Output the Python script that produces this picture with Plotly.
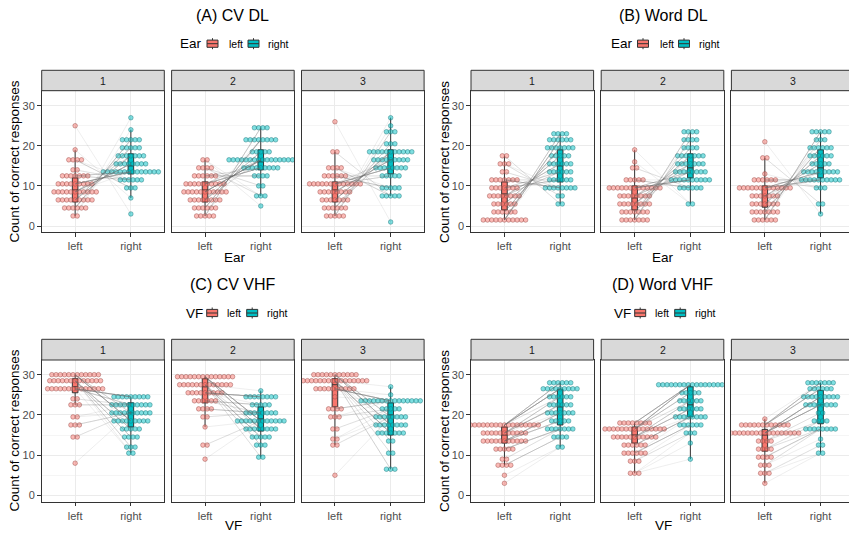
import plotly.graph_objects as go

W, H = 849, 535

panel_titles = ["(A) CV DL", "(B) Word DL", "(C) CV VHF", "(D) Word VHF"]
factor_names = ["Ear", "Ear", "VF", "VF"]
facet_labels = ["1", "2", "3"]
side_labels = ["left", "right"]
y_ticks = [0, 10, 20, 30]
y_title = "Count of correct responses"

# ---- binned dot counts: (score, number of participants) per facet ----
cv_dl_left = [
    [(25, 1), (19, 1), (16.5, 4), (14, 2), (12.5, 7), (10.5, 9), (8.5, 11), (6.5, 9), (4.5, 6), (2.5, 2)],
    [(16.5, 2), (14.5, 4), (12.5, 6), (10.5, 10), (8.5, 11), (6.5, 8), (4.5, 6), (2.5, 5)],
    [(26, 1), (18.5, 2), (14.5, 4), (12.5, 6), (10.5, 13), (8.5, 8), (6.5, 7), (4.5, 6), (2.5, 5)],
]
cv_dl_right = [
    [(27, 1), (24, 1), (21.5, 5), (19.5, 5), (17.5, 7), (15.5, 8), (13.5, 14), (11.5, 6), (9.5, 3), (7, 1), (3, 1)],
    [(24.5, 4), (21.5, 8), (18.5, 5), (16.5, 16), (14.5, 9), (12.5, 4), (10, 2), (7.5, 3), (5, 1)],
    [(27, 1), (25, 1), (23.5, 3), (20.5, 3), (18.5, 11), (16.5, 9), (14.5, 8), (12.5, 5), (9.5, 5), (7.5, 5), (1, 1)],
]
word_dl_left = [
    [(17.5, 2), (15.5, 3), (13.5, 2), (11.5, 7), (9.5, 7), (7.5, 8), (5.5, 6), (3.5, 6), (1.5, 11)],
    [(19, 1), (16, 1), (14.5, 2), (11.5, 5), (9.5, 13), (7.5, 8), (5.5, 8), (3.5, 7), (1.5, 7)],
    [(21, 1), (17, 2), (13, 1), (11.5, 6), (9.5, 13), (7.5, 7), (5.5, 7), (3.5, 7), (1.5, 6)],
]
word_dl_right = [
    [(23, 4), (21.5, 6), (19.5, 7), (17.5, 5), (15.5, 6), (13.5, 6), (11.5, 6), (9.5, 8), (7.5, 2), (5.5, 2)],
    [(23.5, 4), (21.5, 4), (19.5, 4), (17.5, 7), (15.5, 7), (13.5, 8), (11.5, 10), (9.5, 6), (5.5, 2)],
    [(23.5, 5), (21.5, 3), (19.5, 6), (17.5, 6), (15.5, 5), (13.5, 9), (11.5, 10), (9.5, 3), (5.5, 2), (3, 1)],
]
cv_vhf_left = [
    [(30, 12), (28.5, 13), (26.5, 14), (24, 2), (22.5, 3), (19.5, 2), (17.5, 3), (14.5, 2), (8, 1)],
    [(29.5, 14), (27.5, 13), (25.5, 9), (23.5, 6), (21.5, 4), (19.5, 2), (17, 1), (12.5, 2), (9, 1)],
    [(30, 11), (28.5, 16), (26.5, 10), (24.5, 1), (21.5, 4), (19.5, 3), (16.5, 2), (14, 2), (12.5, 2), (5, 1)],
]
cv_vhf_right = [
    [(24.5, 9), (22.5, 10), (20.5, 10), (18.5, 9), (16.5, 5), (14.5, 4), (12, 3), (10.5, 2)],
    [(26, 1), (24.5, 8), (22.5, 5), (20.5, 8), (18.5, 12), (16.5, 8), (14.5, 5), (12.5, 3), (9.5, 2)],
    [(27, 1), (25, 1), (23.5, 15), (21.5, 5), (19.5, 8), (17.5, 8), (15.5, 7), (13.5, 2), (10.5, 2), (6.5, 3)],
]
word_vhf_left = [
    [(17.5, 17), (15.5, 11), (13.5, 11), (11.5, 5), (9, 2), (7.5, 4), (5, 1), (3, 1)],
    [(18, 8), (16.5, 15), (14.5, 11), (12.5, 6), (10.5, 6), (8.5, 3), (5.5, 3)],
    [(19, 1), (17.5, 12), (15.5, 17), (13.5, 4), (11.5, 4), (9.5, 4), (7.5, 3), (5.5, 3), (3, 1)],
]
word_vhf_right = [
    [(28, 6), (26.5, 9), (24.5, 6), (22.5, 6), (20.5, 7), (18.5, 5), (16.5, 7), (14.5, 4), (12, 2)],
    [(27.5, 16), (25.5, 5), (23.5, 6), (21.5, 6), (19.5, 8), (17.5, 6), (15.5, 3), (13, 1), (9, 1)],
    [(28, 7), (26.5, 6), (24.5, 9), (22.5, 8), (20.5, 2), (18.5, 4), (16.5, 8), (14, 1), (12.5, 2), (10.5, 2)],
]

# ---- box statistics (q1, median, q3, lower whisker, upper whisker) ----
cv_dl_box_left = [(6, 9, 12, 2.5, 19), (6, 9, 11, 2.5, 16.5), (6, 9, 11, 2.5, 18.5)]
cv_dl_box_right = [(13, 15, 18, 7, 24), (14, 16, 19, 7.5, 24.5), (13, 16.5, 19, 7.5, 27)]
word_dl_box_left = [(4, 8, 11, 1.5, 17.5), (4, 7, 10, 1.5, 19), (4.7, 7.5, 10, 1.5, 17)]
word_dl_box_right = [(11, 15, 19, 5.5, 23), (12, 14.5, 18, 5.5, 23.5), (12, 14.5, 19, 3, 23.5)]
cv_vhf_box_left = [(25.5, 27, 29, 22.5, 30), (23, 27, 29, 17, 29.5), (22, 27.5, 29, 12.5, 30)]
cv_vhf_box_right = [(17, 20.5, 23, 10.5, 24.5), (16, 19, 22, 9.5, 26), (15, 20, 23, 6.5, 27)]
word_vhf_box_left = [(13, 15, 17, 7.5, 17.5), (13, 15, 17, 5.5, 18), (11, 15, 16.4, 3, 19)]
word_vhf_box_right = [(17.5, 22, 26.4, 12, 28), (19.5, 22.5, 27, 9, 27.5), (17.8, 22.5, 26.1, 10.5, 28)]

# pairing of participants between sides: 'reverse' (left low <-> right high),
# 'half' (rank shifted by half the sample), 'same' (rank order kept)
pairing = ["reverse", "reverse", "half", "same"]

panels = [
    (cv_dl_left, cv_dl_right, cv_dl_box_left, cv_dl_box_right),
    (word_dl_left, word_dl_right, word_dl_box_left, word_dl_box_right),
    (cv_vhf_left, cv_vhf_right, cv_vhf_box_left, cv_vhf_box_right),
    (word_vhf_left, word_vhf_right, word_vhf_box_left, word_vhf_box_right),
]

FILL = ["#F8766D", "#00BFC4"]
DOT_FILL = ["rgba(248,118,109,0.5)", "rgba(0,191,196,0.5)"]
DOT_LINE = ["rgba(150,70,64,0.75)", "rgba(20,115,118,0.75)"]
FONT = "Liberation Sans, Arial, sans-serif"

panel_x0 = [41.7, 471.0, 41.7, 471.0]
facet_step = [129.9, 130.2, 129.9, 130.2]
facet_w = 122.6
panel_ytop = [90.7, 90.7, 360.0, 360.0]
panel_ybot = [232.3, 232.3, 501.6, 501.6]
strip_top = [70.3, 70.3, 339.3, 339.3]
yranges = [[-1.57, 33.74], [-1.57, 33.74], [-1.55, 33.65], [-1.55, 33.65]]
dot_dx = 0.076


def pxx(x):
    return x / W


def pyy(y):
    return 1 - y / H


def expand(bins):
    vals = []
    for v, n in bins:
        vals += [v] * n
    return sorted(vals)


fig = go.Figure()
layout = {}
shapes = []
annotations = []

for p in range(4):
    lefts, rights, bl, br = panels[p]
    for f in range(3):
        k = p * 3 + f + 1
        xn = "x" if k == 1 else f"x{k}"
        yn = "y" if k == 1 else f"y{k}"
        xa = "xaxis" if k == 1 else f"xaxis{k}"
        ya = "yaxis" if k == 1 else f"yaxis{k}"
        x0 = panel_x0[p] + f * facet_step[p]
        x1 = x0 + facet_w
        xr = [0.4, 2.6]
        clipped = False
        if x1 > W:
            xr = [0.4, 0.4 + (W - x0) / facet_w * 2.2]
            x1c = W
            clipped = True
        else:
            x1c = x1
        layout[xa] = dict(
            domain=[pxx(x0), pxx(x1c)], range=xr, anchor=yn,
            tickvals=[1, 2], ticktext=side_labels, ticks="outside", ticklen=3.7,
            tickcolor="#333333", tickwidth=1, showgrid=True, gridcolor="#EBEBEB",
            gridwidth=1, showline=True, mirror=True, linecolor="#333333", linewidth=1,
            zeroline=False, tickfont=dict(size=11, color="#4D4D4D", family=FONT),
        )
        layout[ya] = dict(
            domain=[pyy(panel_ybot[p]), pyy(panel_ytop[p])], range=yranges[p], anchor=xn,
            tickvals=y_ticks, showticklabels=(f == 0), ticks="outside" if f == 0 else "",
            ticklen=3.7, tickcolor="#333333", tickwidth=1, showgrid=True,
            gridcolor="#EBEBEB", gridwidth=1, zeroline=False,
            minor=dict(tickvals=[5, 15, 25], showgrid=True, gridcolor="#EBEBEB", gridwidth=0.5),
            showline=True, mirror=(not clipped), linecolor="#333333", linewidth=1,
            tickfont=dict(size=11, color="#4D4D4D", family=FONT),
        )
        # strip
        shapes.append(dict(type="rect", xref="paper", yref="paper",
                           x0=pxx(x0), x1=pxx(x1), y0=pyy(panel_ytop[p]), y1=pyy(strip_top[p]),
                           fillcolor="#D9D9D9", line=dict(color="#333333", width=1)))
        annotations.append(dict(xref="paper", yref="paper", x=pxx((x0 + x1) / 2),
                                y=pyy((panel_ytop[p] + strip_top[p]) / 2), text=facet_labels[f],
                                showarrow=False, xanchor="center", yanchor="middle",
                                font=dict(size=10.5, color="#1A1A1A", family=FONT)))

        # dots
        for s, bins in enumerate([lefts[f], rights[f]]):
            xs, ys = [], []
            c = s + 1
            for v, n in bins:
                for j in range(n):
                    xs.append(c + (j - (n - 1) / 2) * dot_dx)
                    ys.append(v)
            fig.add_trace(go.Scatter(x=xs, y=ys, mode="markers", xaxis=xn, yaxis=yn,
                                     marker=dict(size=4.6, color=DOT_FILL[s],
                                                 line=dict(color=DOT_LINE[s], width=0.6)),
                                     showlegend=False, hoverinfo="skip"))
        # paired lines
        lv = expand(lefts[f])
        rv = expand(rights[f])
        n = min(len(lv), len(rv))
        if pairing[p] == "reverse":
            rp = rv[::-1]
        elif pairing[p] == "half":
            rp = [rv[(i + n // 2) % n] for i in range(n)]
        else:
            rp = rv
        lx, ly = [], []
        for i in range(n):
            lx += [1, 2, None]
            ly += [lv[i], rp[i], None]
        fig.add_trace(go.Scatter(x=lx, y=ly, mode="lines", xaxis=xn, yaxis=yn,
                                 line=dict(color="rgba(110,110,110,0.2)", width=0.6),
                                 showlegend=False, hoverinfo="skip"))
        # boxes
        for s, st in enumerate([bl[f], br[f]]):
            q1, med, q3, lo, hi = st
            fig.add_trace(go.Box(x=[s + 1], q1=[q1], median=[med], q3=[q3],
                                 lowerfence=[lo], upperfence=[hi], width=0.1,
                                 whiskerwidth=0, fillcolor=FILL[s],
                                 line=dict(color="#333333", width=1), boxpoints=False,
                                 xaxis=xn, yaxis=yn, showlegend=False, hoverinfo="skip"))

    # titles and axis titles
    cx = [232, 663, 233, 662][p]
    ty = [15, 15, 284, 284][p]
    annotations.append(dict(xref="paper", yref="paper", x=pxx(cx), y=pyy(ty),
                            text=panel_titles[p], showarrow=False, xanchor="center",
                            yanchor="middle", font=dict(size=16, color="black", family=FONT)))
    xt = [235, 663, 233, 663.5][p]
    xty = [257, 257, 525, 525][p]
    annotations.append(dict(xref="paper", yref="paper", x=pxx(xt), y=pyy(xty),
                            text=factor_names[p], showarrow=False, xanchor="center",
                            yanchor="middle", font=dict(size=13.5, color="black", family=FONT)))
    ytx = [13.5, 444, 13.5, 444][p]
    yty = [162, 162, 431, 431][p]
    annotations.append(dict(xref="paper", yref="paper", x=pxx(ytx), y=pyy(yty),
                            text=y_title, showarrow=False, textangle=-90, xanchor="center",
                            yanchor="middle", font=dict(size=13.5, color="black", family=FONT)))

    # legend
    if p in (0, 1):
        off = 0 if p == 0 else 430.5
        lx0 = [178, 207, 227, 248, 266]
        ly = 43.7
    else:
        off = 0 if p == 2 else 428
        lx0 = [184, 206.7, 225, 246.7, 265]
        ly = 313
    lx0 = [v + off for v in lx0]
    annotations.append(dict(xref="paper", yref="paper", x=pxx(lx0[0]), y=pyy(ly),
                            text=factor_names[p], showarrow=False, xanchor="left",
                            yanchor="middle", font=dict(size=13.5, color="black", family=FONT)))
    for s in range(2):
        kx = lx0[1 + 2 * s]
        shapes.append(dict(type="line", xref="paper", yref="paper",
                           x0=pxx(kx + 5.5), x1=pxx(kx + 5.5), y0=pyy(ly - 5.5), y1=pyy(ly + 5.5),
                           line=dict(color="#333333", width=1)))
        shapes.append(dict(type="rect", xref="paper", yref="paper",
                           x0=pxx(kx), x1=pxx(kx + 11), y0=pyy(ly - 3.6), y1=pyy(ly + 3.6),
                           fillcolor=FILL[s], line=dict(color="#333333", width=1)))
        shapes.append(dict(type="line", xref="paper", yref="paper",
                           x0=pxx(kx), x1=pxx(kx + 11), y0=pyy(ly), y1=pyy(ly),
                           line=dict(color="#333333", width=1)))
        annotations.append(dict(xref="paper", yref="paper", x=pxx(lx0[2 + 2 * s]), y=pyy(ly),
                                text=side_labels[s], showarrow=False, xanchor="left",
                                yanchor="middle", font=dict(size=10.5, color="black", family=FONT)))

fig.update_layout(
    width=W, height=H, autosize=False,
    margin=dict(l=0, r=0, t=0, b=0),
    paper_bgcolor="white", plot_bgcolor="white",
    shapes=shapes, annotations=annotations, showlegend=False,
    boxmode="overlay",
    font=dict(family=FONT),
    **layout,
)

fig.write_html("out.html", config={"displayModeBar": False, "staticPlot": True})

# remove the browser's default page margin so the figure sits at the window origin
with open("out.html", encoding="utf-8") as fh:
    html = fh.read()
html = html.replace("<head>", "<head><style>html,body{margin:0;padding:0;overflow:hidden;}</style>", 1)
with open("out.html", "w", encoding="utf-8") as fh:
    fh.write(html)
